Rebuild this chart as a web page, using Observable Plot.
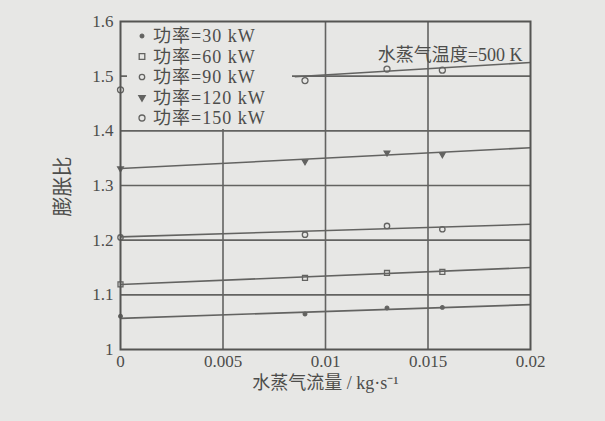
<!DOCTYPE html>
<html><head><meta charset="utf-8">
<script src="https://cdn.jsdelivr.net/npm/d3@7"></script>
<script src="https://cdn.jsdelivr.net/npm/@observablehq/plot@0.6"></script>
<style>
html,body{margin:0;padding:0;background:#e7e7e5;}
#chart{width:605px;height:421px;}
</style></head><body><div id="chart"></div>
<script>
// ---- data ----
const flowRates = [0, 0.009, 0.013, 0.0157];           // 水蒸气流量 kg/s
const powerLabels = ["功率=30 kW", "功率=60 kW", "功率=90 kW", "功率=120 kW", "功率=150 kW"];
const ratio30  = [1.061, 1.065, 1.076, 1.077];
const ratio60  = [1.119, 1.131, 1.140, 1.142];
const ratio90  = [1.205, 1.210, 1.226, 1.220];
const ratio120 = [1.331, 1.344, 1.360, 1.357];
const ratio150 = [1.475, 1.492, 1.513, 1.511];
// fitted trend lines (start x, start y, end x, end y)
const fitStartX = [0, 0, 0, 0, 0.0085];
const fitStartY = [1.057, 1.119, 1.206, 1.331, 1.499];
const fitEndX   = [0.02, 0.02, 0.02, 0.02, 0.02];
const fitEndY   = [1.082, 1.150, 1.229, 1.369, 1.525];
const xTicks = [0, 0.005, 0.01, 0.015, 0.02];
const xTickLabels = ["0", "0.005", "0.01", "0.015", "0.02"];
const yTicks = [1, 1.1, 1.2, 1.3, 1.4, 1.5, 1.6];
const yTickLabels = ["1", "1.1", "1.2", "1.3", "1.4", "1.5", "1.6"];
const xTitle = "水蒸气流量 / kg·s⁻¹";
const yTitle = "膨胀比";
const note = "水蒸气温度=500 K";

// ---- styles ----
const ink = "#636361";
const textInk = "#4d4d4b";
const bg = "#e7e7e5";
const symbols = ["circle", "square", "circle", "triangle", "circle"];
const symbolR = [1.8, 2.8, 2.7, 2.1, 3.0];
const symbolFilled = [true, false, false, true, false];

const allRatios = [ratio30, ratio60, ratio90, ratio120, ratio150];
const points = allRatios.flatMap((vals, s) => vals.map((v, i) => ({s, x: flowRates[i], y: v})));
const fits = powerLabels.map((lab, s) => ({s, x1: fitStartX[s], y1: fitStartY[s], x2: fitEndX[s], y2: fitEndY[s]}));

const serif = "'Liberation Serif','Noto Sans CJK SC',serif";
const cjk = "'Liberation Serif','Noto Sans CJK SC',serif";

const d3sym = {circle: d3.symbolCircle, square: d3.symbolSquare, triangle: d3.symbolTriangle};

function legendMark(index, scales, values, dims) {
  const g = d3.create("svg:g");
  const x0 = dims.marginLeft + 7, y0 = dims.marginTop + 1;
  g.append("rect").attr("x", x0).attr("y", y0).attr("width", 165).attr("height", 107).attr("fill", bg);
  powerLabels.forEach((lab, i) => {
    const cy = y0 + 14 + i * 20.5;
    const r = symbolR[i];
    const sz = symbols[i] === "square" ? (2 * r) ** 2 : symbols[i] === "triangle" ? r * r * 4 : Math.PI * r * r;
    g.append("path")
      .attr("d", d3.symbol(d3sym[symbols[i]], sz)())
      .attr("transform", `translate(${x0 + 15},${cy})` + (symbols[i] === "triangle" ? " rotate(180)" : ""))
      .attr("fill", symbolFilled[i] ? ink : "none")
      .attr("stroke", ink).attr("stroke-width", 1.3);
    g.append("text").attr("x", x0 + 26).attr("y", cy).attr("dy", "0.35em")
      .attr("text-anchor", "start")
      .attr("fill", textInk).attr("font-size", 18).attr("font-family", cjk)
      .attr("letter-spacing", "1px")
      .text(lab);
  });
  return g.node();
}

const marks = [
  Plot.ruleX(xTicks.slice(1, -1), {stroke: ink, strokeWidth: 1.6}),
  Plot.ruleY(yTicks.slice(1, -1), {stroke: ink, strokeWidth: 1.6}),
  legendMark,
  Plot.link(fits, {x1: "x1", y1: "y1", x2: "x2", y2: "y2", stroke: ink, strokeWidth: 1.6}),
  ...powerLabels.map((lab, s) => Plot.dot(points.filter(d => d.s === s), {
    x: "x", y: "y", symbol: () => symbols[s], r: symbolR[s],
    rotate: symbols[s] === "triangle" ? 180 : 0,
    fill: symbolFilled[s] ? ink : "none", stroke: ink, strokeWidth: 1.3
  })),
  Plot.frame({stroke: "#555553", strokeWidth: 2}),
  Plot.axisX({ticks: xTicks, tickSize: 0, tickPadding: 5, label: null,
    tickFormat: d => xTickLabels[xTicks.indexOf(d)], fontSize: 17, fill: textInk}),
  Plot.axisY({ticks: yTicks, tickSize: 0, tickPadding: 7, label: null,
    tickFormat: d => yTickLabels[yTicks.findIndex(t => Math.abs(t - d) < 1e-9)], fontSize: 17, fill: textInk}),
  Plot.text([xTitle], {frameAnchor: "bottom", dy: 39, text: d => d, fontSize: 18, fill: textInk, fontFamily: cjk, letterSpacing: 1.5}),
  Plot.text([yTitle], {frameAnchor: "left", dx: -57, dy: 31, rotate: -90, text: d => d, fontSize: 20, fill: textInk, fontFamily: cjk, letterSpacing: 3}),
  Plot.text([note], {frameAnchor: "top-right", dx: -8, dy: 27, textAnchor: "end", text: d => d, fontSize: 18, fill: textInk, fontFamily: cjk, letterSpacing: 1.5})
];

const chart = Plot.plot({
  width: 605, height: 421,
  marginLeft: 120, marginRight: 75, marginTop: 21, marginBottom: 72,
  x: {domain: [0, 0.02]},
  y: {domain: [1, 1.6]},
  style: {fontFamily: serif, fontSize: "16px", color: textInk, background: "transparent", overflow: "visible"},
  marks
});
document.getElementById("chart").appendChild(chart);
</script>
</body></html>
